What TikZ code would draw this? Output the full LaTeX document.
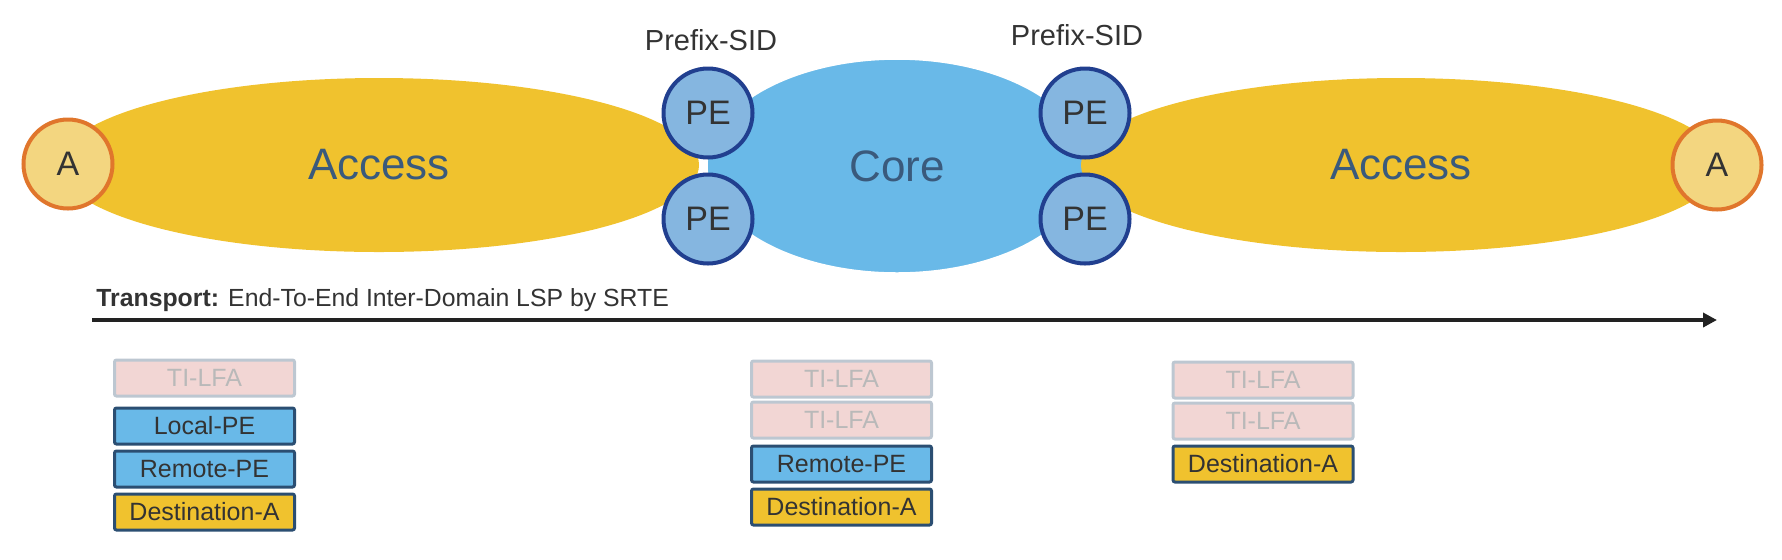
\documentclass[tikz,border=0pt]{standalone}
\usepackage{fontspec}
\setmainfont{Liberation Sans}
\usetikzlibrary{positioning, arrows.meta, shapes.geometric}

\definecolor{accyellow}{HTML}{F0C22E}
\definecolor{coreblue}{HTML}{69B9E8}
\definecolor{pefill}{HTML}{85B6E0}
\definecolor{peline}{HTML}{213F8F}
\definecolor{hostfill}{HTML}{F3D680}
\definecolor{hostline}{HTML}{E0762C}
\definecolor{slate}{HTML}{3A5A7C}
\definecolor{txt}{HTML}{333333}
\definecolor{boxline}{HTML}{2B4E72}
\definecolor{tlfafill}{HTML}{F2D6D4}
\definecolor{tlfaline}{HTML}{BDC7D1}
\definecolor{tlfatext}{HTML}{B9B9B9}
\definecolor{arrowc}{HTML}{222222}

\begin{document}
\begin{tikzpicture}[
    x=0.5pt, y=-0.5pt,
    node distance=2pt,
    netzone/.style={ellipse, inner sep=0pt, text=slate, font=\fontsize{22}{26}\selectfont},
    pe/.style={circle, draw=peline, fill=pefill, line width=2pt, minimum size=44.5pt, inner sep=0pt, text=txt, font=\fontsize{17}{20}\selectfont},
    host/.style={circle, draw=hostline, fill=hostfill, line width=2pt, minimum size=44.5pt, inner sep=0pt, text=txt, font=\fontsize{17}{20}\selectfont},
    sid/.style={text=txt, inner sep=0pt, font=\fontsize{14.5}{17}\selectfont},
    stack/.style={draw, line width=1.5pt, rounded corners=1pt, minimum width=90pt, minimum height=18pt, inner sep=0pt, font=\fontsize{12.5}{15}\selectfont},
    tlfa/.style={stack, draw=tlfaline, fill=tlfafill, text=tlfatext},
    bluebox/.style={stack, draw=boxline, fill=coreblue, text=txt},
    yellowbox/.style={stack, draw=boxline, fill=accyellow, text=txt},
    arrow/.style={-{Triangle[length=7pt, width=7pt]}, line width=2pt, draw=arrowc}
]
    \useasboundingbox (0,0) rectangle (1782,559);

    % Domains
    \node[netzone, fill=coreblue, draw=white, line width=0.75pt, minimum width=190pt, minimum height=107pt] (core) at (897,166) {Core};
    \node[netzone, fill=accyellow, minimum width=320pt, minimum height=87pt] (accL) at (379,165) {Access};
    \node[netzone, fill=accyellow, minimum width=320pt, minimum height=87pt] (accR) at (1401,165) {Access};

    % Border PEs
    \node[pe] (peTL) at (708,113) {PE};
    \node[pe] (peBL) at (708,219) {PE};
    \node[pe] (peTR) at (1085,113) {PE};
    \node[pe] (peBR) at (1085,219) {PE};
    \node[sid, anchor=base] (sidL) at (711,50) {Prefix-SID};
    \node[sid, anchor=base] (sidR) at (1077,45) {Prefix-SID};

    % End hosts
    \node[host] (hostL) at (68,164) {A};
    \node[host] (hostR) at (1717,165) {A};

    % Transport LSP
    \node[anchor=base west, inner sep=0pt, text=txt, font=\fontsize{12.4}{15}\selectfont] (lsp) at (96,306) {\textbf{Transport:} End-To-End Inter-Domain LSP by SRTE};
    \coordinate (lspS) at (92,320);
    \coordinate (lspE) at (1717,320);
    \draw[arrow] (lspS) -- (lspE);

    % Label stack at A side
    \node[tlfa] (tlfaA) at (204.5,378) {TI-LFA};
    \node[bluebox, below=4.5pt of tlfaA] (localA) {Local-PE};
    \node[bluebox, below=of localA] (remoteA) {Remote-PE};
    \node[yellowbox, below=of remoteA] (destA) {Destination-A};

    % Label stack in core
    \node[tlfa] (tlfaB1) at (841.5,379) {TI-LFA};
    \node[tlfa, below=1pt of tlfaB1] (tlfaB2) {TI-LFA};
    \node[bluebox, below=2.5pt of tlfaB2] (remoteB) {Remote-PE};
    \node[yellowbox, below=of remoteB] (destB) {Destination-A};

    % Label stack at remote side
    \node[tlfa] (tlfaC1) at (1263,380) {TI-LFA};
    \node[tlfa, below=1pt of tlfaC1] (tlfaC2) {TI-LFA};
    \node[yellowbox, below=2pt of tlfaC2] (destC) {Destination-A};
\end{tikzpicture}
\end{document}
